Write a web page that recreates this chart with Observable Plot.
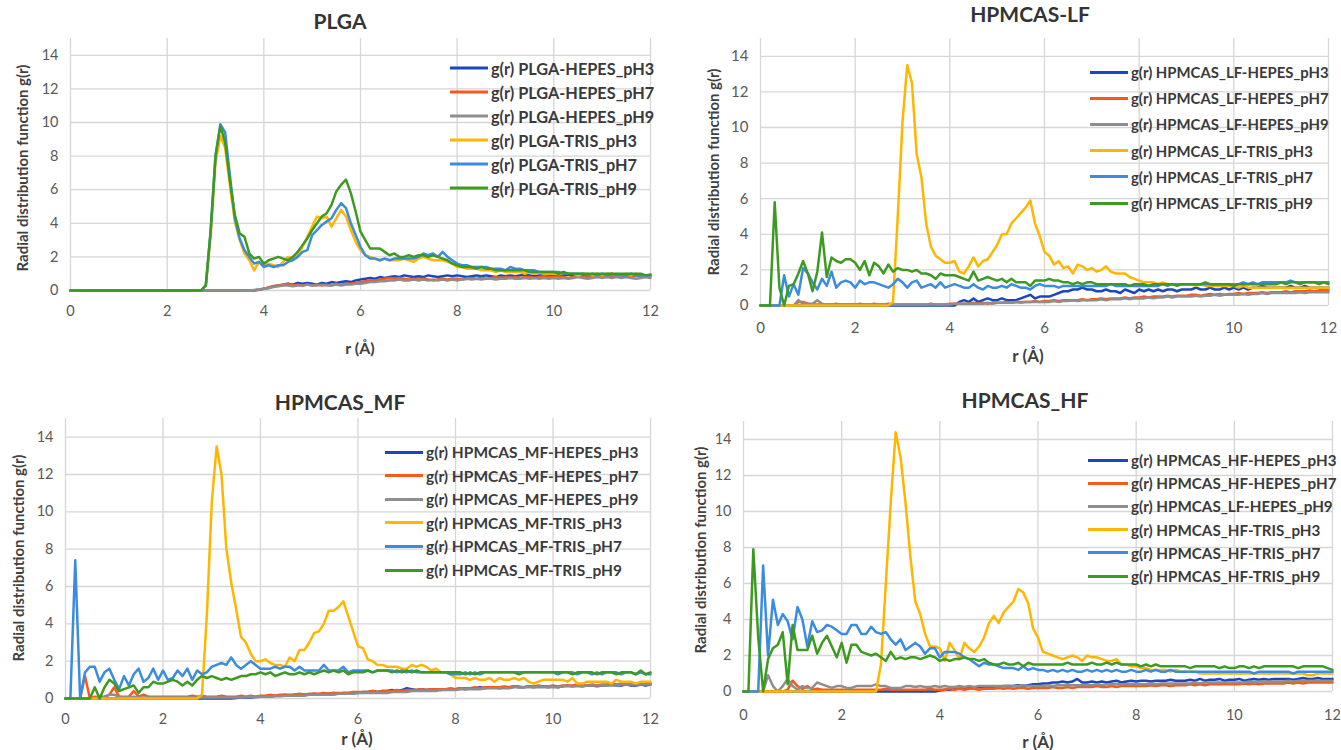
<!DOCTYPE html>
<html><head><meta charset="utf-8">
<script src="https://cdn.jsdelivr.net/npm/d3@7"></script>
<script src="https://cdn.jsdelivr.net/npm/@observablehq/plot@0.6"></script>
<style>
html,body{margin:0;padding:0;background:#fff;overflow:hidden}
#wrap{position:relative;width:1341px;height:750px;background:#fff;font-family:Lato,"Open Sans",sans-serif}
.t{position:absolute;transform:translate(-50%,-50%);white-space:nowrap;font-weight:bold;color:#404040}
.yl{position:absolute;transform:translate(-50%,-50%) rotate(-90deg);white-space:nowrap;font-weight:bold;color:#404040}
.lg{position:absolute;display:flex;align-items:center;transform:translateY(-50%);white-space:nowrap;font-weight:bold;color:#3a3a3a}
.lg span.sw{display:inline-block;height:3px;margin-right:3px}
</style></head>
<body><div id="wrap"></div>
<script>
// r axis (Å), 0.1 Å bins
const rValues = Array.from({length: 121}, (_, i) => i / 10);
const xTicks = [0, 2, 4, 6, 8, 10, 12];
const yTicks = [0, 2, 4, 6, 8, 10, 12, 14];
const seriesColors = ["#1a47c0", "#f5591c", "#8e8e8e", "#ffb600", "#3b8be0", "#3d9a20"];

// ---------- PLGA ----------
const plgaNames = ["g(r) PLGA-HEPES_pH3","g(r) PLGA-HEPES_pH7","g(r) PLGA-HEPES_pH9","g(r) PLGA-TRIS_pH3","g(r) PLGA-TRIS_pH7","g(r) PLGA-TRIS_pH9"];
const plgaHepesPH3 = [0,0,0,0,0,0,0,0,0,0, 0,0,0,0,0,0,0,0,0,0, 0,0,0,0,0,0,0,0,0,0,
 0,0,0,0,0,0,0,0,0.02,0.05, 0.1,0.15,0.25,0.3,0.35,0.4,0.35,0.45,0.4,0.45,
 0.4,0.35,0.45,0.4,0.5,0.45,0.5,0.55,0.5,0.6, 0.65,0.7,0.75,0.7,0.8,0.75,0.8,0.85,0.8,0.9,
 0.85,0.8,0.85,0.8,0.9,0.85,0.8,0.85,0.9,0.85, 0.9,0.85,0.8,0.85,0.9,0.85,0.9,0.85,0.8,0.9,
 0.85,0.9,0.85,0.9,0.95,0.9,0.85,0.9,0.9,0.85, 0.9,0.85,0.9,0.95,0.9,0.85,0.9,0.9,0.95,0.9,
 0.9,0.95,0.9,0.85,0.9,0.95,0.9,0.9,0.85,0.9, 0.9];
const plgaHepesPH7 = [0,0,0,0,0,0,0,0,0,0, 0,0,0,0,0,0,0,0,0,0, 0,0,0,0,0,0,0,0,0,0,
 0,0,0,0,0,0,0,0,0,0.05, 0.1,0.2,0.25,0.3,0.35,0.4,0.3,0.35,0.3,0.35,
 0.3,0.35,0.3,0.35,0.3,0.4,0.35,0.4,0.4,0.45, 0.5,0.55,0.6,0.6,0.65,0.7,0.75,0.7,0.75,0.7,
 0.65,0.7,0.65,0.7,0.65,0.6,0.65,0.7,0.65,0.7, 0.7,0.65,0.7,0.75,0.7,0.75,0.7,0.75,0.8,0.75,
 0.8,0.75,0.8,0.75,0.8,0.8,0.75,0.8,0.85,0.8, 0.8,0.85,0.8,0.75,0.8,0.85,0.8,0.8,0.85,0.8,
 0.85,0.8,0.85,0.9,0.85,0.8,0.85,0.9,0.85,0.8, 0.85];
const plgaHepesPH9 = [0,0,0,0,0,0,0,0,0,0, 0,0,0,0,0,0,0,0,0,0, 0,0,0,0,0,0,0,0,0,0,
 0,0,0,0,0,0,0,0,0.03,0.06, 0.1,0.15,0.2,0.25,0.3,0.3,0.25,0.3,0.3,0.35,
 0.3,0.3,0.35,0.3,0.3,0.35,0.3,0.35,0.35,0.4, 0.4,0.45,0.5,0.5,0.55,0.55,0.6,0.6,0.65,0.6,
 0.6,0.65,0.6,0.65,0.6,0.65,0.6,0.65,0.6,0.65, 0.6,0.65,0.7,0.65,0.7,0.65,0.7,0.7,0.65,0.7,
 0.7,0.75,0.7,0.7,0.75,0.7,0.75,0.7,0.75,0.7, 0.75,0.7,0.75,0.7,0.75,0.8,0.75,0.7,0.75,0.8,
 0.75,0.8,0.75,0.8,0.75,0.8,0.75,0.7,0.75,0.8, 0.75];
const plgaTrisPH3 = [0,0,0,0,0,0,0,0,0,0, 0,0,0,0,0,0,0,0,0,0, 0,0,0,0,0,0,0,0,0.3,3.3,
 7.6,9.2,8.5,6.2,4.1,3.0,2.2,1.8,1.2,1.7, 1.5,1.6,1.5,1.4,1.7,2.0,1.9,2.1,2.6,3.2,
 3.8,4.4,4.3,4.4,3.8,4.3,4.8,4.4,3.6,2.9, 2.4,2.1,2.0,1.9,1.8,1.9,1.8,1.8,1.8,1.9,
 1.8,1.7,1.9,2.0,1.9,1.8,1.8,1.8,1.7,1.6, 1.4,1.4,1.3,1.3,1.3,1.2,1.2,1.2,1.1,1.2,
 1.1,1.1,1.1,1.1,1.0,1.1,1.0,1.1,1.0,1.0, 1.0,1.0,1.0,1.0,1.0,0.9,1.0,1.0,0.9,1.0,
 0.9,1.0,1.0,0.9,0.9,1.0,0.9,1.0,0.9,0.9, 0.9];
const plgaTrisPH7 = [0,0,0,0,0,0,0,0,0,0, 0,0,0,0,0,0,0,0,0,0, 0,0,0,0,0,0,0,0,0.3,3.5,
 8.0,9.9,9.4,6.8,4.3,3.1,2.4,2.0,1.6,1.7, 1.4,1.5,1.4,1.5,1.5,1.7,1.8,2.0,2.3,2.4,
 3.3,3.6,3.9,4.1,4.3,4.8,5.2,4.9,4.0,3.3, 2.6,2.1,1.9,1.9,1.8,1.9,1.8,1.9,1.9,1.9,
 1.9,1.9,2.0,2.2,2.1,2.2,2.0,2.3,2.0,1.8, 1.6,1.5,1.5,1.4,1.4,1.4,1.4,1.3,1.3,1.3,
 1.2,1.4,1.3,1.3,1.2,1.2,1.2,1.1,1.1,1.1, 1.1,1.1,1.0,1.0,1.0,1.0,1.0,0.9,1.0,0.9,
 1.0,0.9,1.0,0.9,0.9,0.9,1.0,0.9,0.9,0.9, 0.9];
const plgaTrisPH9 = [0,0,0,0,0,0,0,0,0,0, 0,0,0,0,0,0,0,0,0,0, 0,0,0,0,0,0,0,0,0.3,3.6,
 8.0,9.8,8.8,6.5,4.5,3.4,3.2,2.2,1.9,2.0, 1.6,1.8,1.9,2.0,1.9,1.8,2.0,2.3,2.7,3.1,
 3.6,4.0,4.4,4.6,5.1,5.9,6.3,6.6,5.8,4.7, 3.5,3.0,2.5,2.5,2.5,2.3,2.1,2.2,2.0,2.0,
 2.1,2.0,2.1,2.1,2.0,2.1,2.0,1.9,1.8,1.6, 1.5,1.4,1.4,1.4,1.3,1.4,1.3,1.3,1.2,1.2,
 1.2,1.2,1.2,1.2,1.2,1.1,1.1,1.1,1.1,1.1, 1.1,1.0,1.1,1.0,1.0,1.0,1.0,1.0,1.0,1.0,
 1.0,1.0,1.0,1.0,1.0,1.0,1.0,1.0,1.0,0.9, 0.95];

// ---------- HPMCAS-LF ----------
const lfNames = ["g(r) HPMCAS_LF-HEPES_pH3","g(r) HPMCAS_LF-HEPES_pH7","g(r) HPMCAS_LF-HEPES_pH9","g(r) HPMCAS_LF-TRIS_pH3","g(r) HPMCAS_LF-TRIS_pH7","g(r) HPMCAS_LF-TRIS_pH9"];
const lfHepesPH3 = [0,0,0,0,0,0,0,0,0,0, 0,0,0,0,0,0,0,0,0,0, 0,0,0,0,0,0,0,0,0,0, 0,0,0,0,0,0,0,0,0,0,
 0,0,0.2,0.3,0.2,0.4,0.2,0.3,0.4,0.3, 0.3,0.4,0.3,0.3,0.3,0.4,0.5,0.6,0.4,0.5,
 0.5,0.5,0.6,0.7,0.8,0.8,0.9,0.9,1.0,0.9, 0.9,0.8,0.8,0.9,0.8,0.8,0.7,0.9,0.8,0.7,
 0.9,0.8,0.9,0.8,0.9,0.8,0.9,0.9,0.8,0.9, 0.9,0.9,1.0,0.9,0.9,1.0,0.9,0.9,1.0,0.9,
 1.0,0.9,1.0,0.9,1.0,1.0,1.1,1.0,1.0,1.0, 1.0,1.0,1.1,1.0,1.0,1.1,1.0,1.0,1.0,1.0, 1.0];
const lfHepesPH7 = [0,0,0,0,0,0,0,0,0.2,0.2, 0.1,0.05,0.05,0.05,0.05,0.05,0.1,0.05,0.05,0.05,
 0.05,0.1,0.05,0.05,0.1,0.05,0.05,0.1,0.05,0.05, 0.05,0.05,0.05,0.05,0.05,0.05,0.1,0.05,0.05,0.05,
 0.1,0.1,0.1,0.1,0.1,0.15,0.1,0.15,0.1,0.15, 0.15,0.15,0.2,0.15,0.2,0.2,0.2,0.2,0.25,0.2,
 0.25,0.25,0.3,0.25,0.3,0.3,0.3,0.3,0.35,0.3, 0.35,0.35,0.4,0.35,0.4,0.4,0.4,0.45,0.4,0.45,
 0.45,0.5,0.45,0.5,0.5,0.5,0.55,0.5,0.55,0.55, 0.55,0.6,0.6,0.55,0.6,0.65,0.6,0.65,0.6,0.65,
 0.65,0.7,0.65,0.7,0.7,0.7,0.75,0.7,0.75,0.75, 0.75,0.8,0.75,0.8,0.8,0.8,0.85,0.8,0.85,0.85, 0.85];
const lfHepesPH9 = [0,0,0,0,0,0,0,0,0.3,0.1, 0.1,0.1,0.3,0.1,0.05,0.05,0.05,0.05,0.05,0.05,
 0.05,0.05,0.05,0.05,0.05,0.05,0.05,0.05,0.05,0.05, 0.05,0.05,0.05,0.05,0.05,0.05,0.05,0.05,0.05,0.05,
 0.05,0.1,0.1,0.1,0.1,0.1,0.1,0.1,0.15,0.1, 0.15,0.15,0.15,0.15,0.2,0.15,0.2,0.2,0.2,0.2,
 0.2,0.2,0.25,0.2,0.25,0.25,0.3,0.25,0.3,0.3, 0.3,0.3,0.35,0.3,0.35,0.35,0.35,0.4,0.35,0.4,
 0.4,0.4,0.45,0.4,0.45,0.45,0.5,0.45,0.5,0.5, 0.5,0.5,0.55,0.5,0.55,0.55,0.6,0.55,0.6,0.6,
 0.6,0.6,0.65,0.6,0.65,0.65,0.7,0.65,0.7,0.7, 0.7,0.7,0.7,0.7,0.75,0.7,0.75,0.75,0.75,0.75, 0.75];
const lfTrisPH3 = [0,0,0,0,0,0,0,0,0,0, 0,0,0,0,0,0,0,0,0,0, 0,0,0,0,0,0,0,0,0.2,5.0,
 10.3,13.5,12.5,8.5,7.2,4.6,3.3,2.8,2.6,2.4, 2.4,2.5,1.9,1.8,2.2,2.7,2.2,2.5,2.6,3.0,
 3.4,4.0,4.0,4.6,4.9,5.2,5.5,5.9,4.6,3.9, 3.0,2.8,2.3,2.5,2.1,2.2,1.8,2.3,2.2,2.0,
 2.1,1.9,2.0,2.2,1.9,1.8,1.8,1.8,1.6,1.5, 1.4,1.3,1.3,1.3,1.2,1.3,1.2,1.2,1.2,1.2,
 1.2,1.2,1.1,1.2,1.1,1.1,1.1,1.1,1.1,1.1, 1.1,1.0,1.1,1.0,1.0,1.0,1.0,1.0,1.0,1.0,
 1.0,1.0,1.0,1.0,1.0,1.0,1.0,1.0,1.0,1.0, 1.0];
const lfTrisPH7 = [0,0,0,0,0,1.7,0.5,1.2,0.6,2.1, 1.8,1.3,0.9,1.5,1.1,1.9,1.0,1.3,1.4,1.3,
 1.0,1.4,1.2,1.3,1.3,1.2,1.1,1.0,1.2,1.5, 1.3,1.0,1.3,1.4,1.0,1.1,1.2,1.0,1.3,1.0,
 1.1,1.2,1.1,1.0,1.0,1.2,1.0,0.9,1.1,1.0, 1.0,1.1,1.0,1.2,1.1,1.0,1.0,0.9,1.1,1.2,
 1.1,1.1,1.1,1.0,1.1,1.1,1.1,1.1,1.1,1.1, 1.1,1.1,1.1,1.1,1.2,1.1,1.1,1.1,1.1,1.1,
 1.1,1.1,1.1,1.1,1.1,1.2,1.1,1.2,1.2,1.2, 1.2,1.2,1.2,1.2,1.2,1.2,1.2,1.2,1.2,1.2,
 1.2,1.2,1.3,1.2,1.3,1.2,1.3,1.3,1.3,1.3, 1.3,1.3,1.4,1.3,1.3,1.3,1.3,1.3,1.3,1.3, 1.3];
const lfTrisPH9 = [0,0,0,5.8,1.0,0,1.1,1.2,1.8,2.5, 1.8,0.8,1.9,4.1,1.6,2.7,2.5,2.4,2.6,2.6,
 2.4,2.0,2.5,1.7,2.4,2.2,1.8,2.3,1.9,2.1, 2.0,2.0,1.9,2.0,1.8,1.8,1.7,1.5,1.8,1.7,
 1.7,1.7,1.6,1.5,1.4,1.9,1.4,1.5,1.6,1.5, 1.4,1.5,1.3,1.5,1.3,1.3,1.3,1.1,1.4,1.4,
 1.4,1.5,1.4,1.4,1.3,1.3,1.2,1.3,1.2,1.3, 1.3,1.2,1.2,1.2,1.2,1.2,1.2,1.2,1.1,1.2,
 1.2,1.2,1.1,1.2,1.2,1.2,1.2,1.2,1.1,1.2, 1.2,1.2,1.2,1.2,1.3,1.2,1.2,1.2,1.2,1.2,
 1.1,1.2,1.2,1.2,1.2,1.2,1.2,1.2,1.2,1.2, 1.3,1.2,1.3,1.3,1.2,1.3,1.3,1.3,1.2,1.3, 1.2];

// ---------- HPMCAS_MF ----------
const mfNames = ["g(r) HPMCAS_MF-HEPES_pH3","g(r) HPMCAS_MF-HEPES_pH7","g(r) HPMCAS_MF-HEPES_pH9","g(r) HPMCAS_MF-TRIS_pH3","g(r) HPMCAS_MF-TRIS_pH7","g(r) HPMCAS_MF-TRIS_pH9"];
const mfHepesPH3 = [0,0,0,0,0,0,0,0,0,0, 0,0,0,0,0,0,0,0,0,0, 0,0,0,0,0,0,0,0,0,0,
 0,0,0,0,0,0.02,0.05,0.05,0.05,0.08, 0.1,0.1,0.1,0.15,0.15,0.2,0.15,0.2,0.2,0.2,
 0.2,0.25,0.2,0.25,0.25,0.3,0.25,0.3,0.3,0.3, 0.3,0.35,0.35,0.4,0.35,0.4,0.4,0.45,0.4,0.45,
 0.55,0.5,0.45,0.5,0.45,0.5,0.5,0.45,0.5,0.5, 0.5,0.55,0.5,0.55,0.55,0.6,0.55,0.6,0.6,0.55,
 0.6,0.6,0.65,0.6,0.6,0.65,0.6,0.65,0.65,0.6, 0.65,0.6,0.65,0.7,0.65,0.7,0.65,0.7,0.7,0.65,
 0.7,0.7,0.75,0.7,0.7,0.75,0.7,0.7,0.75,0.7, 0.75];
const mfHepesPH7 = [0,0,0,0,1.2,0,0.1,0.05,0.1,0.2, 0.6,0.1,0.1,0.1,0.4,0.1,0.2,0.1,0.1,0.1,
 0.1,0.1,0.1,0.1,0.1,0.1,0.15,0.1,0.15,0.1, 0.1,0.1,0.15,0.1,0.1,0.1,0.15,0.1,0.15,0.1,
 0.15,0.15,0.2,0.15,0.2,0.2,0.2,0.2,0.25,0.2, 0.25,0.25,0.25,0.3,0.25,0.3,0.3,0.3,0.3,0.35,
 0.35,0.35,0.35,0.4,0.35,0.4,0.4,0.4,0.45,0.4, 0.45,0.45,0.45,0.5,0.45,0.5,0.5,0.5,0.5,0.55,
 0.5,0.55,0.55,0.55,0.6,0.55,0.6,0.6,0.6,0.6, 0.65,0.6,0.65,0.65,0.6,0.65,0.65,0.7,0.65,0.65,
 0.7,0.65,0.7,0.7,0.7,0.75,0.7,0.7,0.75,0.7, 0.75,0.75,0.8,0.75,0.8,0.75,0.8,0.8,0.8,0.8, 0.8];
const mfHepesPH9 = [0,0,0,0,0,0,0,0.1,0.1,0.2, 0.2,0.1,0.05,0.05,0.1,0.05,0.05,0.05,0.05,0.05,
 0.05,0.05,0.05,0.05,0.05,0.05,0.05,0.05,0.05,0.05, 0.05,0.05,0.05,0.05,0.05,0.05,0.05,0.08,0.08,0.1,
 0.1,0.1,0.1,0.12,0.12,0.15,0.15,0.15,0.15,0.15, 0.2,0.2,0.2,0.2,0.2,0.2,0.25,0.25,0.25,0.25,
 0.3,0.3,0.3,0.3,0.3,0.3,0.3,0.35,0.35,0.35, 0.35,0.4,0.4,0.4,0.4,0.4,0.4,0.45,0.45,0.45,
 0.45,0.5,0.5,0.5,0.5,0.5,0.55,0.55,0.55,0.55, 0.55,0.55,0.6,0.6,0.6,0.6,0.6,0.6,0.6,0.6,
 0.6,0.6,0.65,0.65,0.65,0.65,0.65,0.7,0.7,0.7, 0.7,0.7,0.7,0.7,0.75,0.75,0.75,0.75,0.75,0.75, 0.75];
const mfTrisPH3 = [0,0,0,0,0,0,0,0,0,0, 0,0,0,0,0,0,0,0,0,0, 0,0,0,0,0,0,0,0,0.2,4.5,
 10.5,13.5,12.0,8.0,6.2,4.8,3.3,3.0,2.4,2.0, 2.0,2.1,1.9,1.8,1.8,1.7,2.2,2.0,2.6,2.6,
 3.0,3.5,3.6,4.0,4.7,4.7,4.9,5.2,4.4,3.6, 2.8,2.7,2.1,2.0,1.8,1.8,1.7,1.7,1.7,1.6,
 1.6,1.8,1.7,1.8,1.7,1.5,1.6,1.4,1.4,1.3, 1.1,1.1,1.1,1.0,1.1,1.0,1.0,1.1,0.9,1.1,
 1.0,1.0,1.1,1.0,1.1,0.9,0.8,0.9,1.0,1.0, 1.0,1.0,1.0,0.9,1.1,0.8,0.8,0.9,0.9,0.9,
 0.9,0.9,0.8,1.0,0.9,0.9,0.9,0.8,0.9,0.9, 0.9];
const mfTrisPH7 = [0,0,7.4,0,1.4,1.7,1.7,0.9,1.4,1.6, 1.0,0.5,1.2,0.7,1.3,1.6,0.9,1.1,1.6,1.0,
 1.5,1.0,1.1,1.5,1.2,1.6,1.0,1.5,1.3,1.4, 1.7,1.8,1.9,1.8,2.2,1.8,1.6,1.8,2.0,1.8,
 1.6,1.6,1.6,1.7,1.6,1.7,1.7,1.5,1.7,1.5, 1.5,1.5,1.5,1.8,1.5,1.5,1.5,1.7,1.4,1.5,
 1.5,1.5,1.5,1.4,1.5,1.5,1.5,1.5,1.4,1.5, 1.4,1.5,1.4,1.4,1.4,1.4,1.4,1.4,1.4,1.3,
 1.3,1.3,1.4,1.3,1.4,1.3,1.4,1.4,1.4,1.4, 1.4,1.4,1.4,1.4,1.4,1.4,1.4,1.4,1.4,1.4,
 1.4,1.3,1.4,1.4,1.4,1.3,1.4,1.4,1.3,1.4, 1.3,1.4,1.4,1.4,1.3,1.4,1.4,1.3,1.4,1.3, 1.3];
const mfTrisPH9 = [0,0,0,0,0,0,0.6,0.0,0.6,1.0, 0.8,0.4,0.5,0.6,0.7,0.3,0.6,0.6,0.9,0.8,
 0.8,0.9,1.0,0.9,0.7,0.9,0.7,1.0,1.2,1.1, 1.2,1.1,1.0,1.1,1.0,1.1,1.2,1.2,1.3,1.3,
 1.4,1.3,1.4,1.2,1.3,1.4,1.3,1.3,1.4,1.3, 1.4,1.3,1.4,1.5,1.4,1.5,1.4,1.5,1.3,1.4,
 1.4,1.4,1.5,1.4,1.5,1.5,1.5,1.4,1.5,1.4, 1.5,1.4,1.5,1.4,1.4,1.4,1.4,1.4,1.4,1.4,
 1.4,1.4,1.3,1.4,1.3,1.4,1.4,1.4,1.4,1.4, 1.4,1.4,1.4,1.3,1.4,1.4,1.4,1.4,1.4,1.4,
 1.4,1.4,1.4,1.4,1.3,1.4,1.4,1.4,1.4,1.3, 1.4,1.4,1.4,1.3,1.4,1.4,1.4,1.3,1.5,1.3, 1.4];

// ---------- HPMCAS_HF ----------
const hfNames = ["g(r) HPMCAS_HF-HEPES_pH3","g(r) HPMCAS_HF-HEPES_pH7","g(r) HPMCAS_LF-HEPES_pH9","g(r) HPMCAS_HF-TRIS_pH3","g(r) HPMCAS_HF-TRIS_pH7","g(r) HPMCAS_HF-TRIS_pH9"];
const hfHepesPH3 = [0,0,0,0,0,0,0,0,0,0, 0,0,0,0,0,0,0,0,0,0, 0,0,0,0,0,0,0,0,0,0, 0,0,0,0,0,0,0,0,0,0,
 0.05,0.1,0.1,0.15,0.15,0.2,0.2,0.2,0.25,0.2, 0.2,0.25,0.25,0.3,0.3,0.3,0.35,0.3,0.35,0.4,
 0.4,0.45,0.45,0.5,0.5,0.55,0.5,0.55,0.7,0.5, 0.5,0.55,0.5,0.55,0.5,0.55,0.6,0.5,0.55,0.6,
 0.55,0.6,0.6,0.55,0.6,0.6,0.6,0.65,0.6,0.6, 0.6,0.65,0.6,0.7,0.6,0.65,0.65,0.7,0.6,0.65,
 0.65,0.7,0.6,0.65,0.7,0.65,0.7,0.65,0.7,0.7, 0.7,0.7,0.65,0.7,0.75,0.7,0.7,0.75,0.7,0.7, 0.7];
const hfHepesPH7 = [0,0,0,0,0,0,0,0,0,0.1, 0.6,0.3,0.15,0.3,0.1,0.15,0.1,0.1,0.1,0.1,
 0.1,0.1,0.1,0.1,0.1,0.1,0.1,0.1,0.1,0.15, 0.1,0.1,0.1,0.1,0.1,0.1,0.1,0.1,0.15,0.1,
 0.1,0.1,0.15,0.1,0.15,0.1,0.15,0.15,0.1,0.15, 0.15,0.15,0.2,0.15,0.2,0.15,0.2,0.2,0.15,0.2,
 0.2,0.2,0.2,0.25,0.2,0.2,0.25,0.2,0.25,0.25, 0.25,0.25,0.3,0.25,0.25,0.3,0.25,0.3,0.3,0.3,
 0.3,0.3,0.3,0.35,0.3,0.35,0.35,0.3,0.35,0.35, 0.35,0.4,0.35,0.4,0.35,0.4,0.4,0.4,0.4,0.4,
 0.4,0.4,0.45,0.4,0.45,0.4,0.45,0.45,0.45,0.45, 0.45,0.5,0.45,0.5,0.45,0.5,0.5,0.5,0.5,0.5, 0.5];
const hfHepesPH9 = [0,0,0,0,0,0.9,0.3,0.0,0.3,0.7, 0.3,0.1,0.3,0.2,0.2,0.5,0.4,0.3,0.2,0.3,
 0.3,0.2,0.2,0.3,0.3,0.3,0.3,0.4,0.3,0.3, 0.2,0.2,0.2,0.3,0.3,0.25,0.3,0.25,0.25,0.3,
 0.25,0.3,0.25,0.25,0.3,0.25,0.3,0.25,0.3,0.3, 0.3,0.3,0.3,0.3,0.3,0.3,0.3,0.35,0.3,0.3,
 0.3,0.3,0.35,0.3,0.35,0.35,0.35,0.35,0.35,0.35, 0.35,0.35,0.4,0.35,0.4,0.4,0.4,0.4,0.4,0.4,
 0.4,0.4,0.4,0.45,0.4,0.45,0.45,0.45,0.45,0.45, 0.45,0.45,0.5,0.45,0.5,0.5,0.5,0.5,0.5,0.5,
 0.5,0.5,0.5,0.55,0.5,0.55,0.55,0.55,0.55,0.55, 0.55,0.6,0.55,0.6,0.6,0.6,0.6,0.6,0.6,0.6, 0.6];
const hfTrisPH3 = [0,0,0,0,0,0,0,0,0,0, 0,0,0,0,0,0,0,0,0,0, 0,0,0,0,0,0,0,0,1.5,6.0,
 10.5,14.4,13.0,10.5,7.5,5.0,4.3,3.2,2.5,2.5, 2.4,1.7,2.7,2.3,1.8,2.7,2.4,2.2,2.5,3.0,
 3.8,4.2,3.8,4.4,4.7,5.0,5.7,5.5,4.9,3.5, 3.0,2.2,2.1,2.0,1.9,1.8,1.9,2.0,1.9,1.7,
 2.0,1.9,1.9,1.8,1.7,1.7,1.8,1.5,1.5,1.4, 1.4,1.3,1.3,1.2,1.2,1.2,1.2,1.1,1.2,1.1,
 1.1,1.1,1.1,1.0,1.0,1.0,1.0,1.0,1.0,1.0, 1.0,1.0,1.0,1.0,1.0,1.0,1.0,1.0,1.0,1.0,
 1.0,1.0,1.0,1.0,1.0,0.9,0.9,1.0,1.0,1.0, 1.0];
const hfTrisPH7 = [0,0,0,0,7.0,2.0,5.1,3.7,4.3,3.9, 2.9,4.7,4.0,2.5,3.9,3.3,3.4,3.7,3.6,3.4,
 3.2,3.2,3.7,3.7,3.2,3.2,3.6,3.3,3.2,3.3, 2.9,2.6,2.9,2.3,2.5,2.7,2.5,2.1,2.4,2.4,
 1.9,2.2,2.2,2.2,2.1,1.9,1.8,1.6,1.4,1.6, 1.5,1.5,1.4,1.3,1.3,1.3,1.2,1.4,1.2,1.3,
 1.2,1.2,1.1,1.2,1.1,1.2,1.1,1.2,1.1,1.1, 1.2,1.1,1.2,1.1,1.2,1.1,1.2,1.1,1.1,1.2,
 1.1,1.1,1.2,1.1,1.2,1.1,1.1,1.2,1.1,1.1, 1.1,1.1,1.1,1.1,1.1,1.1,1.1,1.1,1.1,1.1,
 1.1,1.1,1.1,1.1,1.0,1.1,1.1,1.1,1.1,1.1, 1.1,1.1,1.0,1.1,1.1,1.1,1.1,1.1,1.1,1.1, 1.1];
const hfTrisPH9 = [0,0,7.9,3.0,0,1.8,2.4,2.6,3.3,0.4, 3.7,2.3,2.3,2.3,3.1,2.1,2.7,3.1,2.5,1.9,
 2.7,1.6,2.6,2.6,2.2,2.1,2.0,2.1,1.9,1.7, 2.2,1.8,1.9,1.8,1.9,1.9,1.8,1.9,2.0,1.9,
 1.7,1.8,1.7,1.8,1.8,1.9,1.8,1.8,1.7,1.8, 1.6,1.5,1.5,1.6,1.5,1.5,1.6,1.4,1.6,1.5,
 1.5,1.5,1.5,1.5,1.5,1.5,1.6,1.5,1.5,1.5, 1.5,1.6,1.5,1.5,1.6,1.5,1.6,1.5,1.5,1.5,
 1.5,1.4,1.5,1.4,1.5,1.4,1.4,1.4,1.4,1.4, 1.4,1.3,1.4,1.4,1.4,1.4,1.4,1.3,1.4,1.3,
 1.3,1.4,1.4,1.3,1.4,1.3,1.4,1.4,1.4,1.4, 1.4,1.4,1.4,1.3,1.4,1.4,1.4,1.4,1.4,1.3, 1.2];

// ---------- panel layout ----------
const panels = [
  {title: "PLGA", names: plgaNames, series: [plgaHepesPH3, plgaHepesPH7, plgaHepesPH9, plgaTrisPH3, plgaTrisPH7, plgaTrisPH9],
   x0: 70, x1: 650, yb: 290, yt: 38, tickFont: 14.5, xPad: 15, yPad: 12,
   titlePos: [340, 20], xlab: [360, 347, 16], ylab: [22, 168],
   legend: {x: 450, y0: 68, dy: 24, font: 16.3, sw: 38}},
  {title: "HPMCAS-LF", names: lfNames, series: [lfHepesPH3, lfHepesPH7, lfHepesPH9, lfTrisPH3, lfTrisPH7, lfTrisPH9],
   x0: 760, x1: 1328, yb: 305, yt: 38, tickFont: 15, xPad: 17, yPad: 12,
   titlePos: [1030, 13], xlab: [1028, 355, 17], ylab: [713, 172],
   legend: {x: 1090, y0: 72, dy: 26.2, font: 14.9, sw: 38}},
  {title: "HPMCAS_MF", names: mfNames, series: [mfHepesPH3, mfHepesPH7, mfHepesPH9, mfTrisPH3, mfTrisPH7, mfTrisPH9],
   x0: 65, x1: 650, yb: 698, yt: 418, tickFont: 14.5, xPad: 15, yPad: 12,
   titlePos: [340, 401], xlab: [357, 738, 17], ylab: [18, 558],
   legend: {x: 385, y0: 452, dy: 23.6, font: 15.5, sw: 38}},
  {title: "HPMCAS_HF", names: hfNames, series: [hfHepesPH3, hfHepesPH7, hfHepesPH9, hfTrisPH3, hfTrisPH7, hfTrisPH9],
   x0: 743, x1: 1332, yb: 691, yt: 421, tickFont: 14.5, xPad: 18, yPad: 12,
   titlePos: [1025, 399], xlab: [1038, 741, 17], ylab: [700, 550],
   legend: {x: 1088, y0: 460, dy: 23.2, font: 15.2, sw: 40}}
];

const W = 1341, H = 750;
const wrap = document.getElementById("wrap");

for (const p of panels) {
  const rows = [];
  p.series.forEach((vals, k) => vals.forEach((g, i) => rows.push({r: rValues[i], g, name: p.names[k]})));
  const svg = Plot.plot({
    width: W, height: H,
    marginLeft: p.x0, marginRight: W - p.x1, marginTop: p.yt, marginBottom: H - p.yb,
    style: {position: "absolute", left: "0px", top: "0px", background: "transparent", overflow: "visible", color: "#595959", fontFamily: "Lato, 'Open Sans', sans-serif"},
    x: {domain: [0, 12]},
    y: {domain: [0, 15]},
    color: {domain: p.names, range: seriesColors},
    marks: [
      Plot.gridX(xTicks, {stroke: "#d6d6d6", strokeOpacity: 1, strokeWidth: 1.3}),
      Plot.gridY(yTicks, {stroke: "#d6d6d6", strokeOpacity: 1, strokeWidth: 1.3}),
      Plot.axisX(xTicks, {tickSize: 0, tickPadding: p.xPad, fontSize: p.tickFont, label: null}),
      Plot.axisY(yTicks, {tickSize: 0, tickPadding: p.yPad, fontSize: p.tickFont, label: null}),
      Plot.line(rows, {x: "r", y: "g", z: "name", stroke: "name", strokeWidth: 2.5, strokeLinejoin: "round", strokeLinecap: "round"})
    ]
  });
  wrap.appendChild(svg);

  const t = document.createElement("div");
  t.className = "t"; t.textContent = p.title;
  t.style.left = p.titlePos[0] + "px"; t.style.top = p.titlePos[1] + "px"; t.style.fontSize = "21px"; t.style.color = "#333";
  wrap.appendChild(t);

  const xl = document.createElement("div");
  xl.className = "t"; xl.textContent = "r (Å)";
  xl.style.left = p.xlab[0] + "px"; xl.style.top = p.xlab[1] + "px"; xl.style.fontSize = p.xlab[2] + "px";
  wrap.appendChild(xl);

  const yl = document.createElement("div");
  yl.className = "yl"; yl.textContent = "Radial distribution function g(r)";
  yl.style.left = p.ylab[0] + "px"; yl.style.top = p.ylab[1] + "px"; yl.style.fontSize = "15px";
  wrap.appendChild(yl);

  p.names.forEach((nm, k) => {
    const row = document.createElement("div");
    row.className = "lg";
    row.style.left = p.legend.x + "px";
    row.style.top = (p.legend.y0 + k * p.legend.dy) + "px";
    row.style.fontSize = p.legend.font + "px";
    const sw = document.createElement("span");
    sw.className = "sw"; sw.style.width = p.legend.sw + "px"; sw.style.background = seriesColors[k];
    const tx = document.createElement("span");
    tx.textContent = nm;
    row.appendChild(sw); row.appendChild(tx);
    wrap.appendChild(row);
  });
}
</script></body></html>
